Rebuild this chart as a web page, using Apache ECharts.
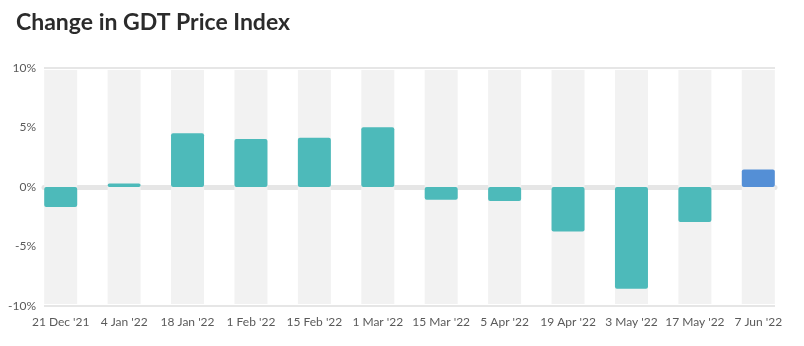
<!doctype html>
<html>
<head>
	<meta charset="utf-8">
	<title>Change in GDT Price Index</title>
	<script src="https://cdn.jsdelivr.net/npm/echarts@6/dist/echarts.min.js"></script>
	<style>
		html, body {margin:0;padding:0;background:#fff;}
		#main {width:804px;height:346px;}
	</style>
</head>
<body>
	<div id="main"></div>
<script>
	"use strict";
	// data
	var dates = ["21 Dec '21", "4 Jan '22", "18 Jan '22", "1 Feb '22", "15 Feb '22", "1 Mar '22",
		"15 Mar '22", "5 Apr '22", "19 Apr '22", "3 May '22", "17 May '22", "7 Jun '22"];
	var change = [-1.7, 0.3, 4.6, 4.1, 4.2, 5.1, -1.1, -1.2, -3.8, -8.7, -3.0, 1.5];
	var latestIndex = dates.length - 1;

	var teal = '#4dbaba', blue = '#548fd6';

	var myChart = echarts.init(document.getElementById("main"));
	myChart.setOption({
		animation: false,
		title: {
			text: 'Change in GDT Price Index',
			left: 11, top: 6,
			textStyle: {fontFamily: 'Lato', fontSize: 23, fontWeight: 'bold', color: '#2b2b2b'}
		},
		grid: [
			{left: 29, right: 14, top: 70, bottom: 42},	// bars
			{left: 44, right: 29, top: 68, bottom: 40}	// guide lines + y labels
		],
		xAxis: [{
			type: 'category', gridIndex: 0, data: dates,
			axisLine: {show: false}, axisTick: {show: false},
			axisLabel: {margin: 12, fontFamily: 'Lato', fontSize: 12, color: '#5a5a5a', interval: 0}
		}, {
			type: 'category', gridIndex: 1, data: dates,
			axisLine: {show: true, onZero: true, lineStyle: {color: '#e6e6e6', width: 5}},
			axisTick: {show: false}, axisLabel: {show: false}
		}],
		yAxis: [{
			type: 'value', gridIndex: 0, min: -10, max: 10, interval: 5,
			show: false
		}, {
			type: 'value', gridIndex: 1, min: -10, max: 10, interval: 5,
			axisLine: {show: false}, axisTick: {show: false},
			axisLabel: {margin: 8, fontFamily: 'Lato', fontSize: 12, color: '#5a5a5a', formatter: '{value}%'},
			splitLine: {lineStyle: {width: 2, color: ['#e6e6e6', 'rgba(0,0,0,0)', 'rgba(0,0,0,0)', 'rgba(0,0,0,0)', '#e6e6e6']}}
		}],
		series: [{
			type: 'bar',
			xAxisIndex: 0, yAxisIndex: 0,
			barWidth: 33,
			showBackground: true,
			backgroundStyle: {color: '#f2f2f2'},
			data: change.map(function(v, i){
				return {value: v, itemStyle: {color: i === latestIndex ? blue : teal, borderRadius: 2}};
			})
		}]
	});
</script>
</body>
</html>
